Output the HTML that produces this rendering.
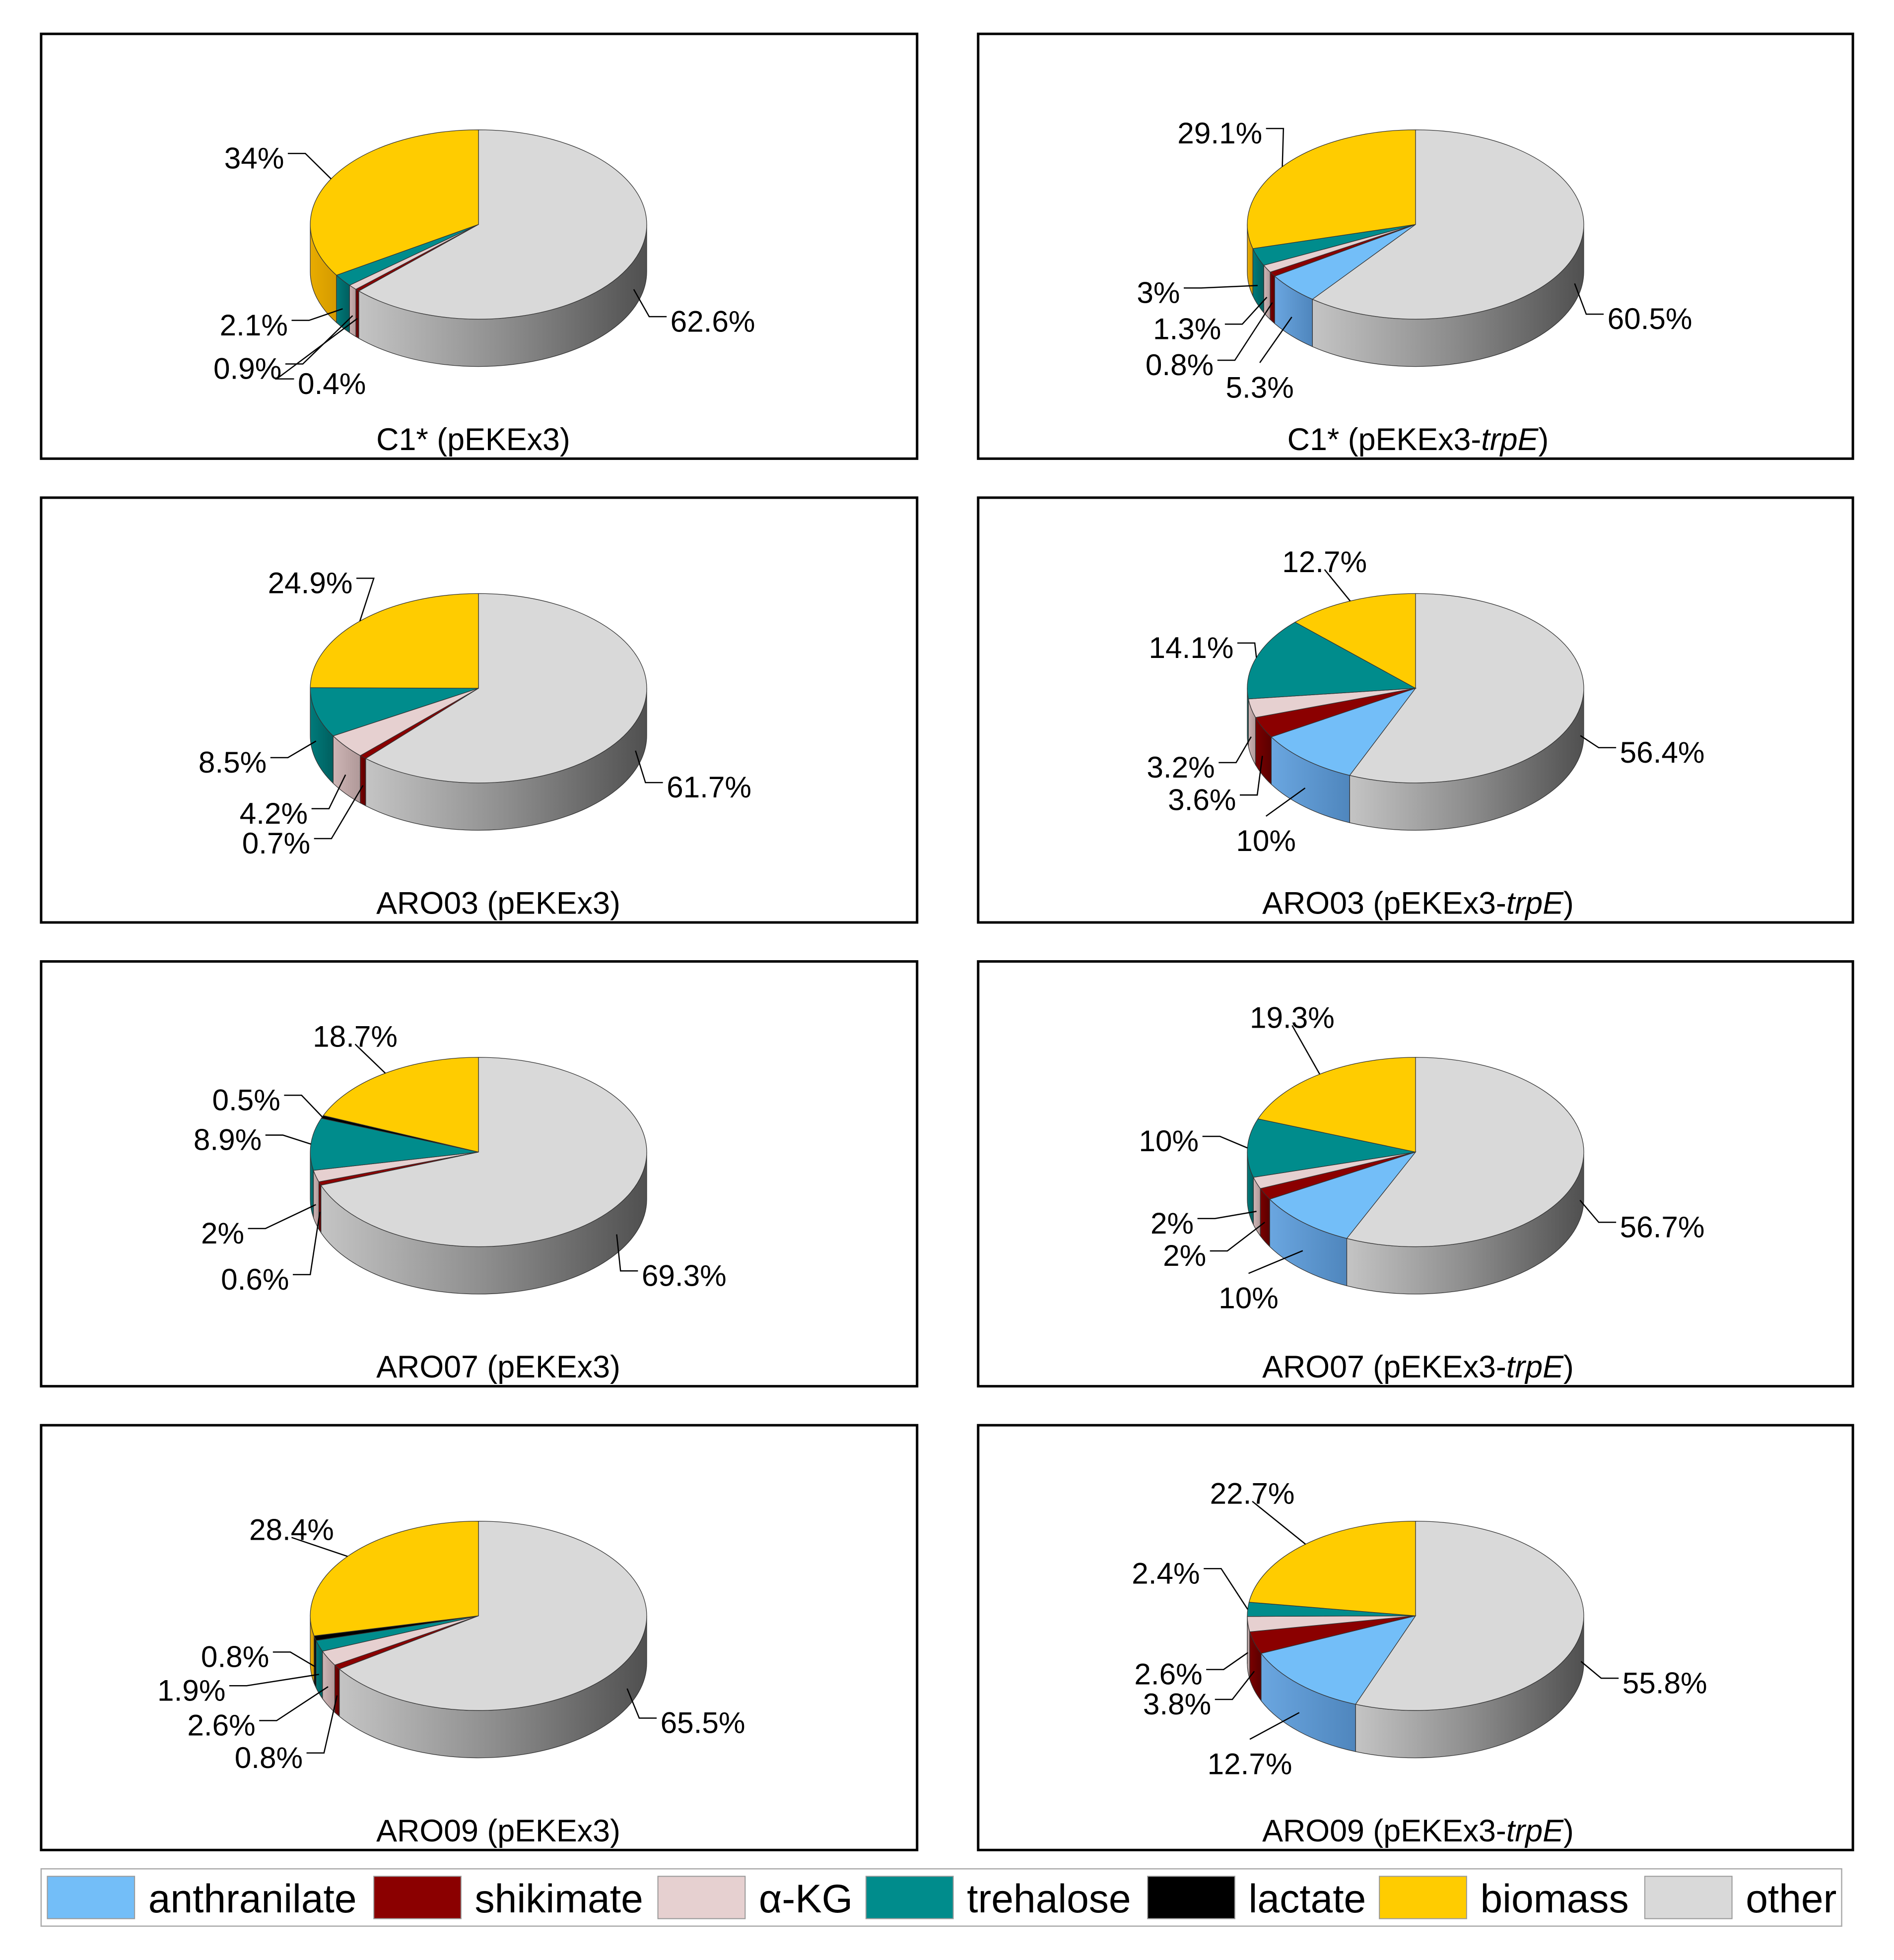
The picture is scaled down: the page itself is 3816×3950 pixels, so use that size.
<!DOCTYPE html>
<html><head><meta charset="utf-8"><style>
html,body{margin:0;padding:0;background:#fff}
svg{display:block}
text{font-family:"Liberation Sans",sans-serif}
</style></head><body>
<svg id="chart" width="3816" height="3950" viewBox="0 0 1520 1573" xmlns="http://www.w3.org/2000/svg">
<defs>
<linearGradient id="g-other" x1="0" x2="1" y1="0" y2="0"><stop offset="0" stop-color="#c4c4c4"/><stop offset="0.5" stop-color="#8e8e8e"/><stop offset="1" stop-color="#505050"/></linearGradient>
<linearGradient id="g-anthr" x1="0" x2="1"><stop offset="0" stop-color="#6aa6e0"/><stop offset="1" stop-color="#4f86bd"/></linearGradient>
<linearGradient id="g-shik" x1="0" x2="1"><stop offset="0" stop-color="#7a0000"/><stop offset="1" stop-color="#5a0000"/></linearGradient>
<linearGradient id="g-kg" x1="0" x2="1"><stop offset="0" stop-color="#cdb4b4"/><stop offset="1" stop-color="#b09999"/></linearGradient>
<linearGradient id="g-treh" x1="0" x2="1"><stop offset="0" stop-color="#007a7a"/><stop offset="1" stop-color="#005f5f"/></linearGradient>
<linearGradient id="g-lact" x1="0" x2="1"><stop offset="0" stop-color="#111"/><stop offset="1" stop-color="#000"/></linearGradient>
<linearGradient id="g-bio" x1="0" x2="1"><stop offset="0" stop-color="#e8ac00"/><stop offset="1" stop-color="#d49a00"/></linearGradient>
</defs>
</svg>
<script>
const categories = ["anthranilate","shikimate","α-KG","trehalose","lactate","biomass","other"];
const panelTitles = ["C1* (pEKEx3)","C1* (pEKEx3-trpE)","ARO03 (pEKEx3)","ARO03 (pEKEx3-trpE)","ARO07 (pEKEx3)","ARO07 (pEKEx3-trpE)","ARO09 (pEKEx3)","ARO09 (pEKEx3-trpE)"];
const valuesC1 = [0,0.4,0.9,2.1,0,34,62.6];
const valuesC1trpE = [5.3,0.8,1.3,3,0,29.1,60.5];
const valuesARO03 = [0,0.7,4.2,8.5,0,24.9,61.7];
const valuesARO03trpE = [10,3.6,3.2,14.1,0,12.7,56.4];
const valuesARO07 = [0,0.6,2,8.9,0.5,18.7,69.3];
const valuesARO07trpE = [10,2,2,10,0,19.3,56.7];
const valuesARO09 = [0,0.8,2.6,1.9,0.8,28.4,65.5];
const valuesARO09trpE = [12.7,3.8,2.6,2.4,0,22.7,55.8];
const allValues = [valuesC1,valuesC1trpE,valuesARO03,valuesARO03trpE,valuesARO07,valuesARO07trpE,valuesARO09,valuesARO09trpE];

const topColors = ["#73BEF8","#8B0000","#E6D0D0","#008C8C","#000000","#FFCC00","#D9D9D9"];
const sideFills = ["url(#g-anthr)","url(#g-shik)","url(#g-kg)","url(#g-treh)","url(#g-lact)","url(#g-bio)","url(#g-other)"];
const labelLayout = [
 [[5,228,127,"end"],[6,538,258,"start"],[3,231,261,"end"],[2,226,296,"end"],[1,239,308,"start"]],
 [[5,1013,107,"end"],[6,1290,256,"start"],[3,947,235,"end"],[2,980,264,"end"],[1,974,293,"end"],[0,1011,311,"middle"]],
 [[5,283,468,"end"],[6,535,632,"start"],[3,214,612,"end"],[2,247,653,"end"],[1,249,677,"end"]],
 [[5,1063,451,"middle"],[6,1300,604,"start"],[3,990,520,"end"],[2,975,616,"end"],[1,992,642,"end"],[0,1016,675,"middle"]],
 [[5,285,832,"middle"],[6,515,1024,"start"],[4,225,883,"end"],[3,210,915,"end"],[2,196,990,"end"],[1,232,1027,"end"]],
 [[5,1037,817,"middle"],[6,1300,985,"start"],[3,962,916,"end"],[2,958,982,"end"],[1,968,1008,"end"],[0,1002,1042,"middle"]],
 [[5,234,1228,"middle"],[6,530,1383,"start"],[4,216,1330,"end"],[3,181,1357,"end"],[2,205,1385,"end"],[1,243,1411,"end"]],
 [[5,1005,1199,"middle"],[6,1302,1351,"start"],[3,963,1263,"end"],[2,965,1344,"end"],[1,972,1368,"end"],[0,1003,1416,"middle"]]
];
const NS="http://www.w3.org/2000/svg";
const svg=document.getElementById('chart');
function mk(tag,attrs,parent){const e=document.createElementNS(NS,tag);for(const k in attrs)e.setAttribute(k,attrs[k]);(parent||svg).appendChild(e);return e;}
const RX=135, RY=76, DEPTH=38;
function pt(cx,cy,deg,dy){const r=deg*Math.PI/180;return [cx+RX*Math.sin(r), cy-RY*Math.cos(r)+(dy||0)];}
function arcPath(cx,cy,a,b,dy){const p=pt(cx,cy,b,dy);const large=(b-a)>180?1:0;
  return `A${RX} ${RY} 0 ${large} 1 ${p[0].toFixed(2)} ${p[1].toFixed(2)}`;}
function arcPathRev(cx,cy,a,b,dy){const p=pt(cx,cy,a,dy);const large=(b-a)>180?1:0;
  return `A${RX} ${RY} 0 ${large} 0 ${p[0].toFixed(2)} ${p[1].toFixed(2)}`;}

allValues.forEach((vals,pi)=>{
  const col=pi%2,row=Math.floor(pi/2);
  const px=col?785:33, py=27+row*372.3;
  const g=mk('g',{});
  
  
  const frame=mk('rect',{x:px,y:py,width:col?702:703,height:341,fill:'#fff',stroke:'#000','stroke-width':2},g);
  
  
  const cx=col?1136:384, cy=py+153;
  const total=vals.reduce((a,b)=>a+b,0);
  const order=[6,0,1,2,3,4,5];
  let ang=0; const spans=[];
  order.forEach(ci=>{const sw=vals[ci]/total*360;spans[ci]=[ang,ang+sw];ang+=sw;});
  order.forEach(ci=>{
    const [a,b]=spans[ci]; if(b-a<=0)return;
    const s=Math.max(a,90), e=Math.min(b,270); if(e<=s)return;
    const p1=pt(cx,cy,s);
    const d=`M${p1[0]} ${p1[1]} ${arcPath(cx,cy,s,e,0)} L${pt(cx,cy,e,DEPTH).join(' ')} ${arcPathRev(cx,cy,s,e,DEPTH)} Z`;
    const side=mk('path',{d,fill:sideFills[ci],stroke:'#333','stroke-width':0.5},g);
    
    
  });
  order.forEach(ci=>{
    const [a,b]=spans[ci]; if(b-a<=0)return;
    const p1=pt(cx,cy,a);
    let d;
    if(b-a>=359.99){d=`M${cx-RX} ${cy} A${RX} ${RY} 0 1 1 ${cx+RX} ${cy} A${RX} ${RY} 0 1 1 ${cx-RX} ${cy} Z`;}
    else d=`M${cx} ${cy} L${p1[0]} ${p1[1]} ${arcPath(cx,cy,a,b,0)} Z`;
    const top=mk('path',{d,fill:topColors[ci],stroke:'#333','stroke-width':0.5},g);
    
    
  });
  labelLayout[pi].forEach(([ci,tx,ty,anc])=>{
    const [a,b]=spans[ci]; const m=(a+b)/2;
    const front=(m>90&&m<270);
    const p=pt(cx,cy,m,front?DEPTH*0.6:0);
    let ex=tx, ey=ty-4;
    if(anc==='end') ex=tx+3; else if(anc==='start') ex=tx-3; else ey = (ty<cy)? ty+6 : ty-20;
    const lx = anc==='middle'? ex : (anc==='end'? ex+14 : ex-14);
    const ln=mk('polyline',{points:`${ex},${ey} ${lx},${ey} ${p[0].toFixed(1)},${p[1].toFixed(1)}`,fill:'none',stroke:'#000','stroke-width':1},g);
    
    
    const t=mk('text',{x:tx,y:ty+8,'text-anchor':anc,'font-size':24,fill:'#000'},g);
    t.textContent=vals[ci]+'%';
    
    
  });
  const tt=mk('text',{x:col?1138:302,y:py+334,'text-anchor':col?'middle':'start','font-size':25,fill:'#000'},g);
  
  
  const title=panelTitles[pi];
  if(title.endsWith('-trpE)')){
    const base=title.slice(0,-6);
    const s1=mk('tspan',{},tt);s1.textContent=base+'-';
    const s2=mk('tspan',{'font-style':'italic'},tt);s2.textContent='trpE';
    const s3=mk('tspan',{},tt);s3.textContent=')';
  } else tt.textContent=title;
});
const lg=mk('g',{});


const lbox=mk('rect',{x:33,y:1500,width:1445,height:46,fill:'#fff',stroke:'#aaa','stroke-width':1},lg);


const legendX=[38,300,528,695,921,1107,1320];
categories.forEach((c,i)=>{
  const sw=mk('rect',{x:legendX[i],y:1506,width:70,height:34,fill:topColors[i],stroke:'#999','stroke-width':0.8},lg);
  
  
  const t=mk('text',{x:legendX[i]+81,y:1535,'font-size':32,fill:'#000'},lg);
  t.textContent=c;
  
  
});
</script>
</body></html>
